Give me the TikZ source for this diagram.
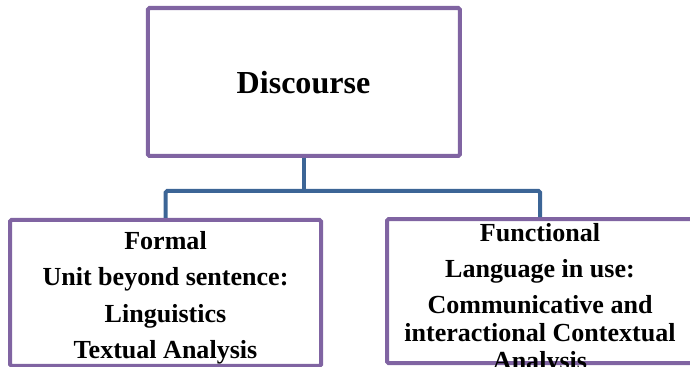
\documentclass[tikz,border=0pt]{standalone}
\usepackage{fontspec}
\setmainfont{Liberation Serif}
\usetikzlibrary{positioning}

\definecolor{boxpurple}{RGB}{128,100,162}
\definecolor{linkblue}{RGB}{60,101,150}

\tikzset{
    box/.style={draw=boxpurple, line width=3.8pt, rounded corners=1.5pt,
        inner sep=0pt},
    boxtext/.style={align=center, font=\bfseries\fontsize{24.7}{34.6}\selectfont},
    link/.style={draw=linkblue, line width=3.8pt, rounded corners=1.5pt}
}

\begin{document}
\begin{tikzpicture}
    \useasboundingbox (0,0) rectangle (23,12.2333);

    \node[box, minimum width=10.4cm, minimum height=4.933cm] (discourse) at (10.133, 9.5) {};
    \node[box, minimum width=10.367cm, minimum height=4.867cm] (formal) at (5.517, 2.467) {};
    \node[box, minimum width=10.2cm, minimum height=4.8cm] (functional) at (18, 2.533) {};

    \node[font=\bfseries\fontsize{30.4}{36}\selectfont] (discoursetext) at (10.117, 9.47) {Discourse};
    \node[boxtext] (formaltext) at (5.517, 2.3) {Formal\\Unit beyond sentence:\\Linguistics\\Textual Analysis};
    \node[boxtext, font=\bfseries\fontsize{24.7}{26.4}\selectfont] (functionaltext) at (18, 2.25)
        {Functional\\[7pt]Language in use:\\[8.5pt]Communicative and\\interactional Contextual\\Analysis};

    % connectors
    \draw[link] (discourse.south) -- ++(0,-1.1) coordinate (fork);
    \draw[link] (fork) -| (formal.north);
    \draw[link] (fork) -| (functional.north);
\end{tikzpicture}
\end{document}
